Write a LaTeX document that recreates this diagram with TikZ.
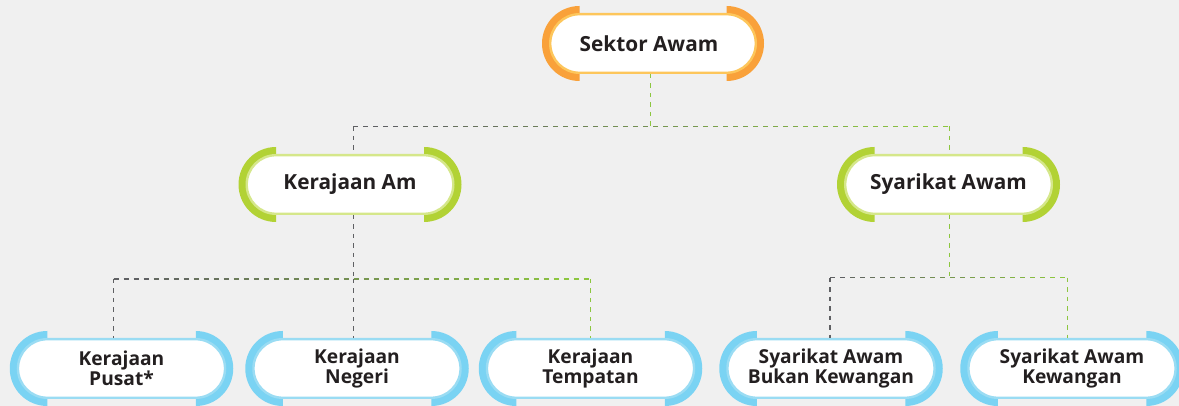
\documentclass[tikz,border=0pt]{standalone}
\usepackage{fontspec}
\setmainfont{Open Sans}
\usetikzlibrary{shapes.misc,calc}
\definecolor{bg}{HTML}{F0F0F0}
\definecolor{txt}{HTML}{231F20}
\definecolor{dgrey}{HTML}{5F6063}
\definecolor{lgreen}{HTML}{8CC63F}
\definecolor{capO}{HTML}{F9A13A}
\definecolor{brdO}{HTML}{FDC65B}
\definecolor{capG}{HTML}{B2D235}
\definecolor{brdG}{HTML}{D5E78A}
\definecolor{capB}{HTML}{7AD3F3}
\definecolor{brdB}{HTML}{9ADCF3}
\tikzset{
  pill/.style={rounded rectangle, draw=#1, line width=2.4pt, fill=white,
    minimum height=58.6pt, inner sep=0pt, text=txt, align=center,
    font=\bfseries\fontsize{20.8}{22}\selectfont},
  smalltxt/.style={font=\bfseries\fontsize{19.2}{20}\selectfont},
  conn/.style={line width=1.4pt, dash pattern=on 5pt off 5pt},
  vconn/.style={line width=1.4pt, dash pattern=on 4.5pt off 5pt},
}
\newcommand\pillnode[8][]{%
  \fill[#6] ({#3-#5/2+37.5},{#4+37.5}) arc[start angle=90,end angle=270,radius=37.5] -- cycle;
  \fill[#6] ({#3+#5/2-37.5},{#4-37.5}) arc[start angle=-90,end angle=90,radius=37.5] -- cycle;
  \node[pill=#7, minimum width={(#5-16.4)*1pt}, #1] (#2) at (#3,#4) {#8};
}
\newcommand\gradline[3]{%
  \foreach \i in {0,...,11}{%
    \pgfmathtruncatemacro\pc{\i*100/11}%
    \begin{scope}
      \clip ({#1+(#2-#1)*\i/12-0.02},{#3-3}) rectangle ({#1+(#2-#1)*(\i+1)/12+0.02},{#3+3});
      \draw[conn, draw=lgreen!\pc!dgrey] (#1,#3) -- (#2,#3);
    \end{scope}
  }%
}
\begin{document}
\begin{tikzpicture}[x=1pt,y=1pt]
\useasboundingbox (0,0) rectangle (1179,406);
\fill[bg] (0,0) rectangle (1179,406);

% nodes
\pillnode{sektor}{653}{362.5}{222}{capO}{brdO}{Sektor Awam\hbox to 8pt{}}
\pillnode{am}{350}{221.5}{223}{capG}{brdG}{Kerajaan Am}
\pillnode{syarikat}{948.5}{221.5}{223}{capG}{brdG}{Syarikat Awam}
\pillnode[smalltxt]{pusat}{121.5}{37.5}{223.5}{capB}{brdB}{Kerajaan\\Pusat*}
\pillnode[smalltxt]{negeri}{357}{37.5}{223.5}{capB}{brdB}{Kerajaan\\Negeri}
\pillnode[smalltxt]{tempatan}{590.5}{37.5}{223.5}{capB}{brdB}{Kerajaan\\Tempatan}
\pillnode[smalltxt]{bukan}{831}{37.5}{223.5}{capB}{brdB}{Syarikat Awam\\Bukan Kewangan}
\pillnode[smalltxt]{kewangan}{1072}{37.5}{223.5}{capB}{brdB}{Syarikat Awam\\Kewangan}

% level 1 connectors
\coordinate (j1) at (650.7,279.5);
\coordinate (hA) at (353.3,279.5);
\coordinate (hB) at (949.3,279.5);
\draw[vconn, draw=lgreen] (sektor.south -| j1) -- (j1);
\gradline{353.3}{949.3}{279.5}
\draw[vconn, draw=dgrey] (hA) -- (am.north -| hA);
\draw[vconn, draw=lgreen] (hB) -- (syarikat.north -| hB);

% level 2 left
\coordinate (j2) at (353.3,127);
\coordinate (p1) at (113.7,127);
\coordinate (p3) at (590.5,127);
\draw[vconn, draw=dgrey] (am.south -| j2) -- (j2);
\gradline{113.7}{590.5}{127}
\draw[vconn, draw=dgrey] (p1) -- (pusat.north -| p1);
\draw[vconn, draw=dgrey] (j2) -- (negeri.north -| j2);
\draw[vconn, draw=lgreen] (p3) -- (tempatan.north -| p3);

% level 2 right
\coordinate (j3) at (949.5,128.3);
\coordinate (q1) at (830,128.3);
\coordinate (q2) at (1067.7,128.3);
\draw[vconn, draw=lgreen] (syarikat.south -| j3) -- (j3);
\gradline{830}{1067.7}{128.3}
\draw[vconn, draw=dgrey] (q1) -- (bukan.north -| q1);
\draw[vconn, draw=lgreen] (q2) -- (kewangan.north -| q2);
\end{tikzpicture}
\end{document}
